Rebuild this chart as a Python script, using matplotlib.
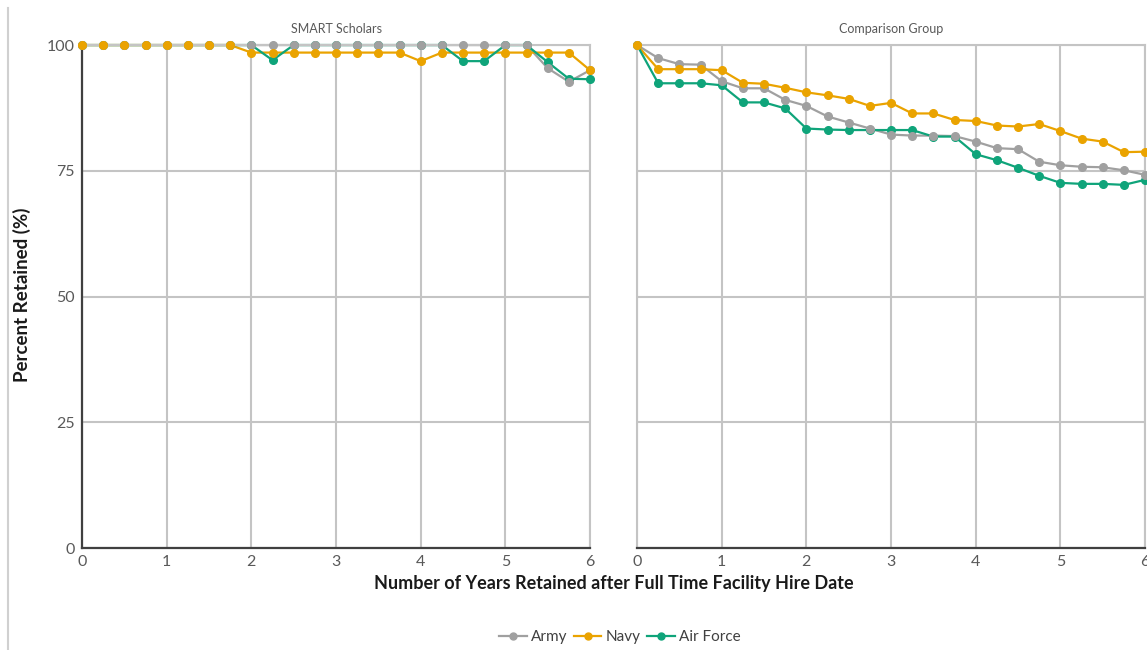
import matplotlib
matplotlib.use("Agg")
import matplotlib.pyplot as plt
from matplotlib.lines import Line2D

plt.rcParams['font.family'] = ['Lato', 'DejaVu Sans']

years = [0, 0.25, 0.5, 0.75, 1, 1.25, 1.5, 1.75, 2, 2.25, 2.5, 2.75, 3,
         3.25, 3.5, 3.75, 4, 4.25, 4.5, 4.75, 5, 5.25, 5.5, 5.75, 6]

series_names = ["Army", "Navy", "Air Force"]

smart_army = [100, 100, 100, 100, 100, 100, 100, 100, 100, 100, 100, 100, 100,
              100, 100, 100, 100, 100, 100, 100, 100, 100, 95.4, 92.7, 95.0]
smart_navy = [100, 100, 100, 100, 100, 100, 100, 100, 98.5, 98.5, 98.5, 98.5, 98.5,
              98.5, 98.5, 98.5, 96.8, 98.5, 98.5, 98.5, 98.5, 98.5, 98.5, 98.5, 95.0]
smart_af = [100, 100, 100, 100, 100, 100, 100, 100, 100, 97.0, 100, 100, 100,
            100, 100, 100, 100, 100, 96.8, 96.8, 100, 100, 96.6, 93.3, 93.2]

comp_army = [100, 97.4, 96.2, 96.1, 92.8, 91.4, 91.4, 89.1, 87.9, 85.8, 84.6, 83.4, 82.2,
             82.0, 82.0, 81.9, 80.8, 79.5, 79.3, 76.8, 76.1, 75.8, 75.7, 75.1, 74.2]
comp_navy = [100, 95.2, 95.2, 95.2, 95.0, 92.5, 92.3, 91.5, 90.6, 90.0, 89.3, 87.9, 88.5,
             86.4, 86.4, 85.1, 84.9, 84.0, 83.8, 84.3, 82.9, 81.4, 80.8, 78.7, 78.8]
comp_af = [100, 92.4, 92.4, 92.4, 92.0, 88.6, 88.6, 87.4, 83.4, 83.2, 83.1, 83.1, 83.1,
           83.1, 81.8, 81.8, 78.3, 77.1, 75.6, 74.0, 72.6, 72.4, 72.4, 72.2, 73.2]

panel_titles = ["SMART Scholars", "Comparison Group"]
x_ticks = [0, 1, 2, 3, 4, 5, 6]
y_ticks = [0, 25, 50, 75, 100]

colors = {"Army": "#a0a0a0", "Navy": "#eaa300", "Air Force": "#0fa47a"}
line_z = {"Army": 2.0, "Navy": 2.1, "Air Force": 2.2}
mark_z = {"Army": 3.1, "Navy": 3.2, "Air Force": 3.0}

fig = plt.figure(figsize=(11.47, 6.5), dpi=100)
ax1 = fig.add_axes([0.0715, 0.1569, 0.4429, 0.7738])
ax2 = fig.add_axes([0.5554, 0.1569, 0.4429, 0.7738])

panels = [(ax1, [smart_army, smart_navy, smart_af]),
          (ax2, [comp_army, comp_navy, comp_af])]

grid_col = "#c4c4c4"
dark = "#404040"
tick_col = "#595959"

for i, (ax, data) in enumerate(panels):
    for name, vals in zip(series_names, data):
        ax.plot(years, vals, color=colors[name], lw=1.6, zorder=line_z[name],
                clip_on=False)
        ax.plot(years, vals, 'o', color=colors[name], ms=5.5, zorder=mark_z[name],
                clip_on=False)
    ax.set_xlim(0, 6)
    ax.set_ylim(0, 100)
    ax.set_xticks(x_ticks)
    ax.set_yticks(y_ticks)
    ax.grid(True, color=grid_col, lw=1.5, zorder=0)
    ax.set_axisbelow(True)
    ax.tick_params(length=0, labelsize=11.5, labelcolor=tick_col, pad=5)
    for s in ["top", "right"]:
        ax.spines[s].set_color(grid_col)
        ax.spines[s].set_linewidth(1.5)
    ax.spines["bottom"].set_color(dark)
    ax.spines["bottom"].set_linewidth(1.6)
    if i == 0:
        ax.spines["left"].set_color(dark)
        ax.spines["left"].set_linewidth(1.6)
    else:
        ax.spines["left"].set_color(grid_col)
        ax.spines["left"].set_linewidth(1.5)
        ax.tick_params(labelleft=False)
    ax.set_title(panel_titles[i], fontsize=9, color=tick_col, pad=9)

fig.text(614 / 1147, 1 - 583 / 650, "Number of Years Retained after Full Time Facility Hire Date",
         ha="center", va="center", fontsize=13, fontweight="bold", color="#1a1a1a")
fig.text(22 / 1147, 1 - 295 / 650, "Percent Retained (%)", rotation=90,
         ha="center", va="center", fontsize=13.5, fontweight="bold", color="#1a1a1a")

fig.add_artist(Line2D([8 / 1147, 8 / 1147], [0, 1 - 8 / 650], color="#d0d0d0", lw=1.5))

handles = [Line2D([], [], color=colors[n], lw=1.6, marker='o', ms=5) for n in series_names]
fig.legend(handles, series_names, loc="center", bbox_to_anchor=(620 / 1147, 1 - 637 / 650),
           ncol=3, frameon=False, fontsize=11, handlelength=1.8, handletextpad=0.3,
           columnspacing=0.4, labelcolor="#404040")

fig.savefig("out.png", dpi=100)
